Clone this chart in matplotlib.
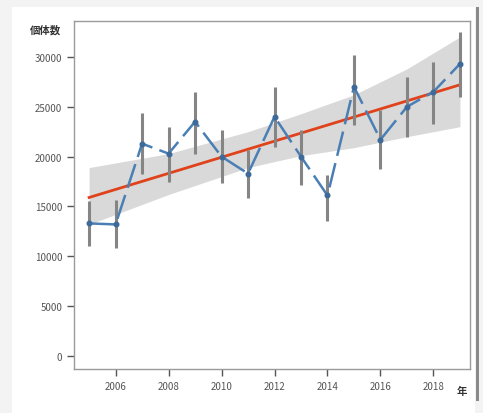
import numpy as np
import matplotlib.pyplot as plt
from matplotlib.patches import Rectangle

plt.rcParams['font.family'] = ['Noto Sans CJK JP', 'DejaVu Sans']

# 年ごとの個体数（推定値）と誤差範囲
years = [2005, 2006, 2007, 2008, 2009, 2010, 2011, 2012,
         2013, 2014, 2015, 2016, 2017, 2018, 2019]
counts = [13300, 13200, 21300, 20300, 23500, 20000, 18300, 24000,
          20000, 16100, 27000, 21700, 25000, 26500, 29300]
lower = [11000, 10800, 18300, 17500, 20300, 17400, 15800, 21000,
         17200, 13500, 23200, 18800, 22000, 23300, 26000]
upper = [15500, 15600, 24400, 23000, 26500, 22700, 20700, 27000,
         22700, 18200, 30200, 24700, 28000, 29500, 32500]

# 回帰直線（両端）と信頼区間（読み取り値）
trend_years = [2005, 2019]
trend_vals = [15900, 27200]
band_years = [2005, 2008, 2011, 2013, 2015, 2017, 2019]
band_low = [13200, 16200, 18900, 20100, 20900, 22000, 23000]
band_high = [18900, 20300, 22500, 24300, 26200, 28800, 32000]

yticks = [0, 5000, 10000, 15000, 20000, 25000, 30000]
xticks = [2006, 2008, 2010, 2012, 2014, 2016, 2018]

fig = plt.figure(figsize=(4.83, 4.14), dpi=100)
fig.patch.set_facecolor('#f3f3f3')
# 白い台紙と右側の影
fig.add_artist(Rectangle((12 / 483, 0.0), 463 / 483, 1 - 8 / 414,
                         transform=fig.transFigure, facecolor='white',
                         edgecolor='none', zorder=-2))
fig.add_artist(Rectangle((476 / 483, 0.03), 3 / 483, 0.95,
                         transform=fig.transFigure, facecolor='#8a8a8a',
                         edgecolor='none', zorder=-2))

ax = fig.add_axes([74 / 483, 1 - 370 / 414, 396 / 483, 348 / 414])
ax.set_zorder(2)
ax.set_facecolor('white')

yrs = np.array(years)
cnt = np.array(counts)

ax.fill_between(band_years, band_low, band_high, color='#d9d9d9',
                linewidth=0, zorder=1)
ax.plot(trend_years, trend_vals, color='#e0421b', linewidth=2, zorder=2)
ax.vlines(yrs, lower, upper, color='#858585', linewidth=2.2, zorder=3)
ax.plot(yrs, cnt, color='#4a7fb5', linewidth=1.8, linestyle=(0, (10, 3)),
        marker='o', markersize=3.3, markerfacecolor='#3d6a99',
        markeredgecolor='#3d6a99', zorder=4)

ax.set_xlim(2004.43, 2019.38)
ax.set_ylim(-1300, 33600)
ax.set_xticks(xticks)
ax.set_yticks(yticks)
ax.tick_params(labelsize=7, colors='#555555', length=5, width=1)

for s in ax.spines.values():
    s.set_color('#9a9a9a')
    s.set_linewidth(1)

fig.text(30 / 483, 1 - 30 / 414, '個体数', fontsize=7.5, fontweight='bold',
         color='#333333', ha='left', va='center', zorder=3)
fig.text(462 / 483, 1 - 392 / 414, '年', fontsize=7.5, fontweight='bold',
         color='#333333', ha='center', va='center', zorder=3)

fig.savefig('out.png', dpi=100, facecolor=fig.get_facecolor())
